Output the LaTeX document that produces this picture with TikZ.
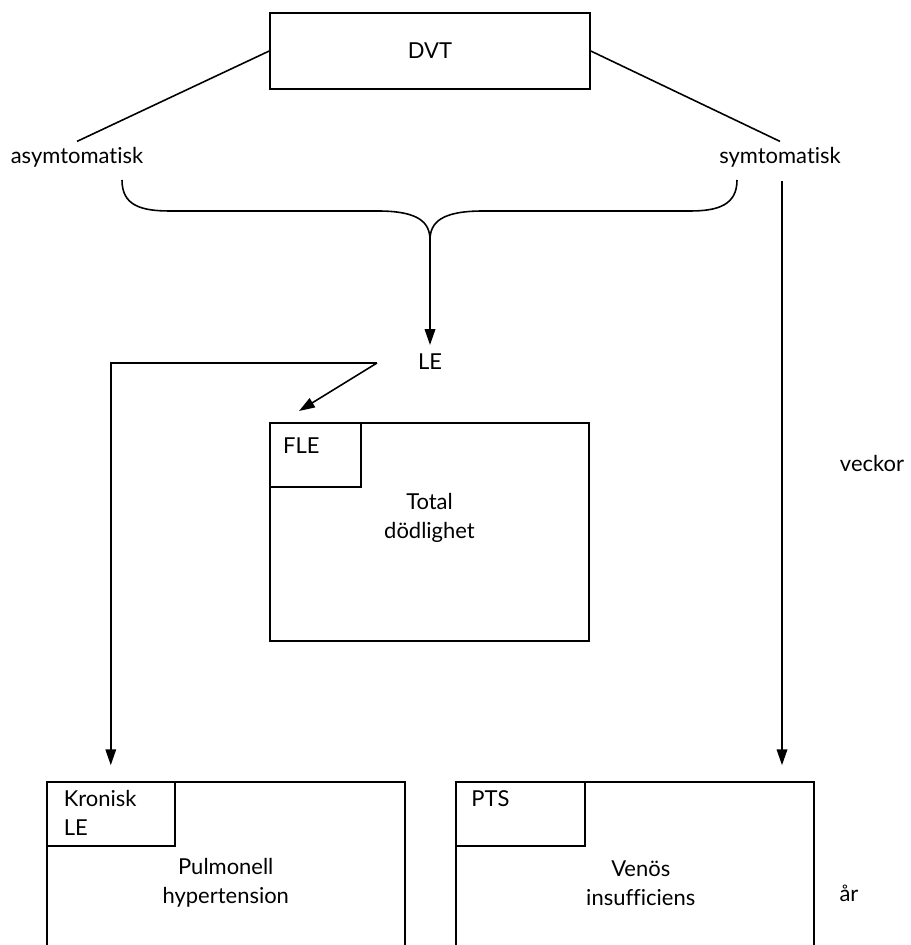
\documentclass[tikz,border=0pt]{standalone}
\usepackage{fontspec}
\setmainfont{Lato}[Ligatures=CommonOff]
\usetikzlibrary{arrows.meta, positioning, calc}
\tikzset{
    box/.style={draw, line width=0.9pt, inner sep=0pt},
    txt/.style={font=\fontsize{12.5}{16.5}\selectfont, align=center, inner sep=2pt},
    arr/.style={-{Triangle[length=9pt, width=6pt]}, line width=0.9pt},
    ln/.style={line width=0.9pt}
}

\begin{document}
\begin{tikzpicture}[x=0.02cm, y=-0.02cm]
    \useasboundingbox (0,0) rectangle (910,945);
    \clip (0,0) rectangle (910,945);

    \node[box, txt, minimum width=6.4cm, minimum height=1.52cm] (dvt) at (430,51) {DVT};
    \node[txt, inner sep=3pt] (asym) at (77,157) {asymtomatisk};
    \node[txt, inner sep=3pt] (sym) at (780,157) {symtomatisk};
    \draw[ln] (dvt.west) -- (asym.north);
    \draw[ln] (dvt.east) -- (sym.north);

    % brace
    \coordinate (tip) at (430,240);
    \draw[ln] (122,180) .. controls (122,205) and (140,211) .. (170,211) -- (378,211)
        .. controls (418,211) and (430,222) .. (tip);
    \draw[ln] (737,180) .. controls (737,205) and (718,211) .. (690,211) -- (483,211)
        .. controls (442,211) and (430,222) .. (tip);

    \node[txt] (le) at (430,362) {LE};
    \draw[arr, shorten >=3pt] (tip) -- (le);

    \node[box, minimum width=6.38cm, minimum height=4.36cm] (total) at (429.5,532) {};
    \node[box, anchor=north west, minimum width=1.82cm, minimum height=1.28cm] (fle) at (total.north west) {};
    \node[txt, anchor=west] (flet) at ($(fle.north west)+(10,23)$) {FLE};
    \node[txt] (totalt) at ($(total.north)+(0,96)$) {Total\\dödlighet};

    \coordinate (split) at (377,363);
    \coordinate (fletip) at (299,411);
    \draw[arr] (split) -- (fletip);

    \node[box, anchor=north west, minimum width=7.16cm, minimum height=5cm] (pulm) at (46,781) {};
    \node[box, anchor=north west, minimum width=2.56cm, minimum height=1.28cm] (kron) at (pulm.north west) {};
    \node[txt, anchor=north west, align=left] (kront) at ($(kron.north west)+(14,5)$) {Kronisk\\LE};
    \node[txt] (pulmt) at ($(pulm.north)+(0,102)$) {Pulmonell\\hypertension};

    \node[box, anchor=north west, minimum width=7.16cm, minimum height=5cm] (ven) at (455,781) {};
    \node[box, anchor=north west, minimum width=2.58cm, minimum height=1.28cm] (pts) at (ven.north west) {};
    \node[txt, anchor=west] (ptst) at ($(pts.north west)+(12.5,18)$) {PTS};
    \node[txt] (vent) at ($(ven.north)+(6,102)$) {Venös\\insufficiens};

    \draw[arr, shorten >=9pt] (split) -| (kron.north);
    \coordinate (symdown) at (782,181);
    \draw[arr, shorten >=9pt] (symdown) -- (symdown |- ven.north);

    \node[txt] (weeks) at (872,463) {veckor};
    \node[txt] (years) at (849,893) {år};
\end{tikzpicture}
\end{document}
